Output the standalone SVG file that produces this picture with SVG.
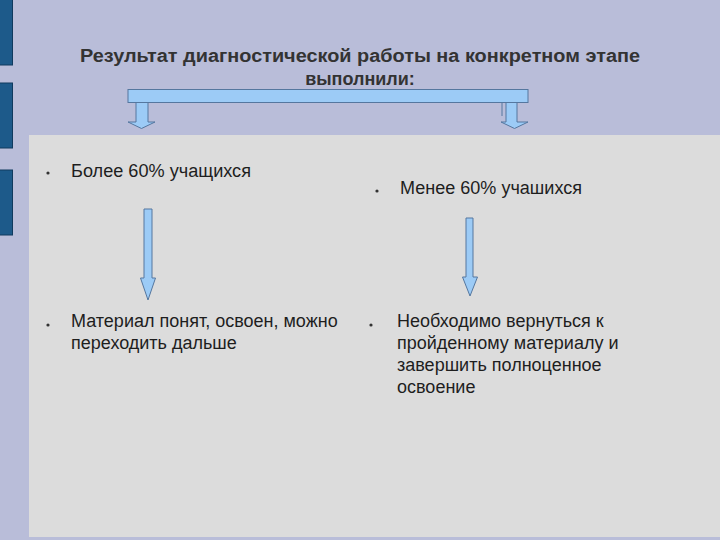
<svg xmlns="http://www.w3.org/2000/svg" width="720" height="540" viewBox="0 0 720 540">
<style>
.title{font-family:"Liberation Sans",Arial,sans-serif;font-weight:bold;font-size:18px;fill:#333;text-anchor:middle}
.t{font-family:"Liberation Sans",Arial,sans-serif;font-size:18px;fill:#1e1e1e}
.arrow{fill:#9ccbf6;stroke:#55779f;stroke-width:1}
.bar{fill:#1d5a8a;stroke:#103a5e;stroke-width:1}
.dot{fill:#333}
</style>
<rect width="720" height="540" fill="#b9bdd9"/>
<g id="sidebars">
<rect class="bar" x="-1" y="-1" width="13.5" height="66"/>
<rect class="bar" x="-1" y="83" width="13.5" height="65"/>
<rect class="bar" x="-1" y="170" width="13.5" height="65"/>
</g>
<rect id="panel" x="29" y="135" width="691" height="402" fill="#dcdcdc"/>
<g id="title">
<text class="title" x="360" y="62" textLength="560" lengthAdjust="spacingAndGlyphs">Результат диагностической работы на конкретном этапе</text>
<text class="title" x="360" y="85">выполнили:</text>
</g>
<g id="connectors">
<rect class="arrow" x="128" y="89.5" width="400" height="13"/>
<path class="arrow" d="M136,102.5 V122 H128 L141.5,128.5 L155,122 H148 V102.5 Z"/>
<path class="arrow" d="M506,102.5 V122 H501 L514.5,128.5 L528,122 H517 V102.5 Z"/>
<line x1="502" y1="103" x2="502" y2="116" stroke="#55779f" stroke-width="1"/>
<path class="arrow" d="M144,209 V278 H140.5 L148,300 L155.5,278 H152 V209 Z"/>
<path class="arrow" d="M466,218 V277 H462.5 L470,296 L477.5,277 H473 V218 Z"/>
</g>
<g id="node-more">
<circle class="dot" cx="48" cy="173" r="1.6"/>
<text class="t" x="71" y="177" textLength="180" lengthAdjust="spacingAndGlyphs">Более 60% учащихся</text>
</g>
<g id="node-less">
<circle class="dot" cx="377" cy="191" r="1.6"/>
<text class="t" x="400" y="194" textLength="182" lengthAdjust="spacingAndGlyphs">Менее 60% учашихся</text>
</g>
<g id="node-ok">
<circle class="dot" cx="48" cy="325" r="1.6"/>
<text class="t" x="71" y="327">Материал понят, освоен, можно</text>
<text class="t" x="71" y="349">переходить дальше</text>
</g>
<g id="node-back">
<circle class="dot" cx="371" cy="325" r="1.6"/>
<text class="t" x="397" y="327">Необходимо вернуться к</text>
<text class="t" x="397" y="349">пройденному материалу и</text>
<text class="t" x="397" y="371">завершить полноценное</text>
<text class="t" x="397" y="393">освоение</text>
</g>
</svg>
